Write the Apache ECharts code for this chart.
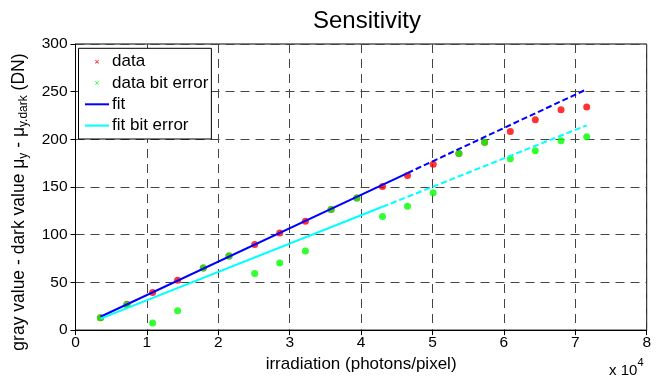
<!DOCTYPE html>
<html><head><meta charset="utf-8">
<script src="https://cdn.jsdelivr.net/npm/echarts@6/dist/echarts.min.js"></script>
<style>html,body{margin:0;padding:0;background:#fff}#c{width:664px;height:378px}</style>
</head><body><div id="c"></div>
<script>
const xTicks = [0,1,2,3,4,5,6,7,8];
const yTicks = [0,50,100,150,200,250,300];
const irradiation = [0.35,0.72,1.08,1.43,1.79,2.15,2.51,2.86,3.22,3.58,3.94,4.30,4.65,5.01,5.37,5.73,6.09,6.44,6.80,7.16];
const dataValues = [13,27,39.5,52.3,65,77.6,89.7,101.8,114.1,126.4,138.5,150.5,162.2,173.9,185.2,196.9,208.2,220.5,231,234];
const dataBitError = [13,26.5,7.5,20.3,65,77.6,59.4,70.4,83,126.4,138.5,119.2,129.9,144,185.2,196.9,179.7,188,198.6,202.7];
const fitX = [0.35, 4.65, 7.16];
const fitY = [14, 164.7, 252.5];
const fitBitX = [0.35, 4.30, 7.16];
const fitBitY = [12, 129.3, 214.7];

const FONT = '"Liberation Sans", Arial, sans-serif';
const pts = (xs, ys) => xs.map((x, i) => [x, ys[i]]);
const seg = (xs, ys, a, b) => [[xs[a], ys[a]], [xs[b], ys[b]]];
const gridLine = {show: true, lineStyle: {color: '#444', width: 1, type: [9, 6]}};
const xIcon = 'path://M0,0M24,10M10,3.6L10.6,3L14,6.4L13.4,7ZM13.4,3L14,3.6L10.6,7L10,6.4Z';
const lineIcon = 'path://M0,0M24,10M0,4L24,4L24,6L0,6Z';

const chart = echarts.init(document.getElementById('c'), null, {renderer: 'canvas'});
chart.setOption({
  animation: false,
  backgroundColor: '#fff',
  title: {text: 'Sensitivity', left: 362, top: 4, textAlign: 'center',
    textStyle: {fontFamily: FONT, fontSize: 24, fontWeight: 'normal', color: '#000'}},
  grid: {left: 75.5, right: 17.3, top: 44, bottom: 43, show: true, borderColor: '#000', borderWidth: 1, backgroundColor: 'transparent'},
  legend: {
    left: 78.5, top: 48.3, orient: 'vertical', backgroundColor: '#fff',
    borderColor: '#000', borderWidth: 1, borderRadius: 0,
    padding: [4.4, 3, 4.4, 6.5], itemGap: 3.3, itemWidth: 24, itemHeight: 10,
    textStyle: {fontFamily: FONT, fontSize: 17, color: '#000', lineHeight: 18, padding: [0, 0, 0, -2]},
    data: [
      {name: 'data', icon: xIcon},
      {name: 'data bit error', icon: xIcon},
      {name: 'fit', icon: lineIcon},
      {name: 'fit bit error', icon: lineIcon}
    ]
  },
  xAxis: {
    type: 'value', min: xTicks[0], max: xTicks[xTicks.length - 1], interval: 1,
    name: 'irradiation (photons/pixel)', nameLocation: 'middle', nameGap: 12,
    nameTextStyle: {fontFamily: FONT, fontSize: 17, color: '#000'},
    axisLine: {show: true, onZero: false, lineStyle: {color: '#000', width: 1}},
    axisTick: {show: true, inside: false, length: 5, lineStyle: {color: '#000'}},
    axisLabel: {fontFamily: FONT, fontSize: 15.5, color: '#000', margin: 5},
    splitLine: gridLine
  },
  yAxis: {
    type: 'value', min: yTicks[0], max: yTicks[yTicks.length - 1], interval: 50,
    name: '{m|gray value - dark value μ}{s|y}{m| - μ}{s|y.dark}{m| (DN)}',
    nameLocation: 'middle', nameRotate: 90, nameGap: 45.5,
    nameTextStyle: {
      padding: [0, 30, 0, 0],
      rich: {
        m: {fontFamily: FONT, fontSize: 17.5, lineHeight: 22, color: '#000'},
        s: {fontFamily: FONT, fontSize: 12, lineHeight: 11, verticalAlign: 'bottom', color: '#000'}
      }
    },
    axisLine: {show: true, lineStyle: {color: '#000', width: 1}},
    axisTick: {show: true, inside: false, length: 5, lineStyle: {color: '#000'}},
    axisLabel: {fontFamily: FONT, fontSize: 15.5, color: '#000', margin: 8},
    splitLine: gridLine
  },
  graphic: [
    {type: 'text', left: 609, top: 363, style: {text: 'x 10', font: '15px ' + FONT, fill: '#000'}},
    {type: 'text', left: 637.5, top: 357, style: {text: '4', font: '11px ' + FONT, fill: '#000'}}
  ],
  series: [
    {name: 'data', type: 'scatter', symbol: 'circle', symbolSize: 7, itemStyle: {color: '#ff0000'},
      data: pts(irradiation, dataValues)},
    {name: 'data bit error', type: 'scatter', symbol: 'circle', symbolSize: 7, itemStyle: {color: '#00ff00'},
      data: pts(irradiation, dataBitError)},
    {name: 'fit', type: 'line', symbol: 'none', itemStyle: {color: '#0000ff'},
      lineStyle: {color: '#0000ff', width: 2}, data: seg(fitX, fitY, 0, 1)},
    {name: 'fit ', type: 'line', symbol: 'none', itemStyle: {color: '#0000ff'},
      lineStyle: {color: '#0000ff', width: 2, type: [6, 3]}, data: seg(fitX, fitY, 1, 2)},
    {name: 'fit bit error', type: 'line', symbol: 'none', itemStyle: {color: '#00ffff'},
      lineStyle: {color: '#00ffff', width: 2}, data: seg(fitBitX, fitBitY, 0, 1)},
    {name: 'fit bit error ', type: 'line', symbol: 'none', itemStyle: {color: '#00ffff'},
      lineStyle: {color: '#00ffff', width: 2, type: [6, 3]}, data: seg(fitBitX, fitBitY, 1, 2)}
  ]
});
</script></body></html>
